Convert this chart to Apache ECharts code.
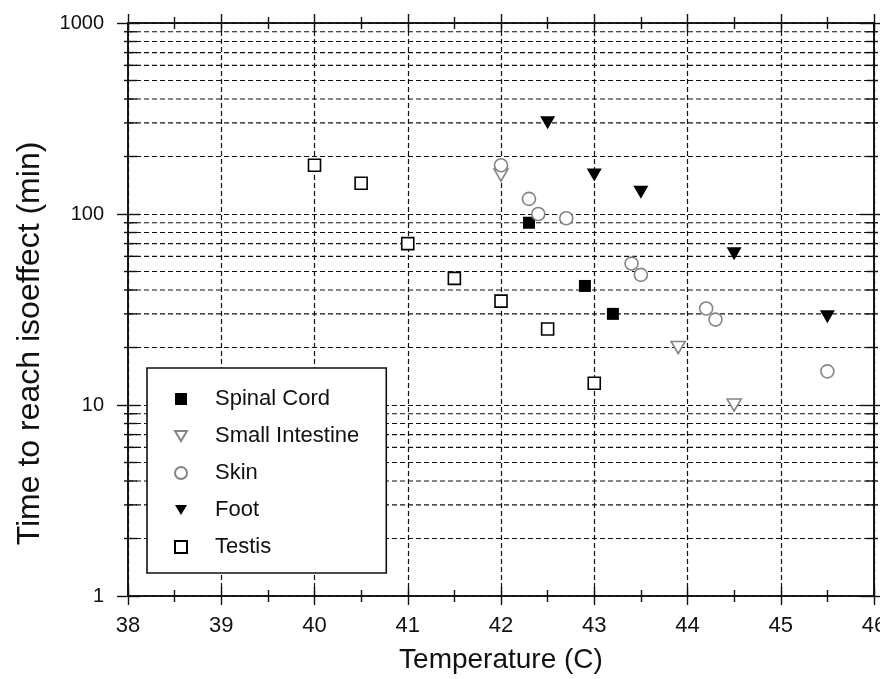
<!DOCTYPE html>
<html>
<head>
<meta charset="utf-8">
<script src="https://cdn.jsdelivr.net/npm/echarts@6/dist/echarts.min.js"></script>
<style>
  html, body { margin: 0; padding: 0; background: #fff; }
  #chart { width: 880px; height: 679px; }
</style>
</head>
<body>
<div id="chart"></div>
<script>
// Temperature (C) and time to reach isoeffect (min) for each tissue
const spinalTemp = [42.3, 42.9, 43.2];
const spinalTime = [90, 42, 30];
const intestineTemp = [42.0, 43.9, 44.5];
const intestineTime = [160, 20, 10];
const skinTemp = [42.0, 42.3, 42.4, 42.7, 43.4, 43.5, 44.2, 44.3, 45.5];
const skinTime = [180, 120, 100, 95, 55, 48, 32, 28, 15];
const footTemp = [42.5, 43.0, 43.5, 44.5, 45.5];
const footTime = [300, 160, 130, 62, 29];
const testisTemp = [40.0, 40.5, 41.0, 41.5, 42.0, 42.5, 43.0];
const testisTime = [180, 145, 70, 46, 35, 25, 13];

// Axis ranges and the minor log ticks (2..9 of every decade)
const tempMin = 38, tempMax = 46, tempStep = 1;
const timeMin = 1, timeMax = 1000;
const minorTimes = [2, 3, 4, 5, 6, 7, 8, 9,
                    20, 30, 40, 50, 60, 70, 80, 90,
                    200, 300, 400, 500, 600, 700, 800, 900];

const FONT = '"Liberation Sans", Arial, Helvetica, sans-serif';
const INK = '#111';
const GREY = '#858585';
const DASH = [5, 3];
const DOWN_TRI = 'path://M0,0L2,0L1,1.7Z';
const SQUARE = 'path://M0,0L1,0L1,1L0,1Z';

const pairs = (xs, ys) => xs.map((x, i) => [x, ys[i]]);

const chart = echarts.init(document.getElementById('chart'), null, { renderer: 'canvas' });

const baseX = {
  type: 'value', min: tempMin, max: tempMax, interval: tempStep,
  axisLine: { show: true, lineStyle: { color: INK, width: 1.6 } },
  axisLabel: { show: false },
  splitLine: { show: false },
  minorTick: { show: true, splitNumber: 2, length: 6, lineStyle: { color: INK, width: 1.4 } }
};
const baseY = {
  type: 'log', logBase: 10, min: timeMin, max: timeMax,
  axisLine: { show: true, lineStyle: { color: INK, width: 1.6 } },
  axisLabel: { show: false },
  splitLine: { show: false }
};

const option = {
  backgroundColor: '#fff',
  animation: false,
  grid: { left: 128, right: 6, top: 23, bottom: 83, containLabel: false, outerBoundsMode: 'none' },
  xAxis: [
    Object.assign({}, baseX, {
      position: 'bottom',
      name: 'Temperature (C)', nameLocation: 'middle', nameGap: 50,
      nameTextStyle: { fontFamily: FONT, fontSize: 28, color: INK },
      axisTick: { show: true, inside: false, length: 9, lineStyle: { color: INK, width: 1.4 } },
      axisLabel: { show: true, margin: 19, fontFamily: FONT, fontSize: 22, color: INK,
                   alignMaxLabel: 'center', alignMinLabel: 'center', hideOverlap: false },
      splitLine: { show: true, lineStyle: { color: INK, width: 1.2, type: DASH } }
    }),
    Object.assign({}, baseX, {
      position: 'bottom',
      axisTick: { show: true, inside: true, length: 9, lineStyle: { color: INK, width: 1.4 } }
    }),
    Object.assign({}, baseX, {
      position: 'top',
      axisTick: { show: true, inside: true, length: 9, lineStyle: { color: INK, width: 1.4 } }
    }),
    Object.assign({}, baseX, {
      position: 'top',
      axisTick: { show: true, inside: false, length: 9, lineStyle: { color: INK, width: 1.4 } }
    })
  ],
  yAxis: [
    Object.assign({}, baseY, {
      position: 'left',
      name: 'Time to reach isoeffect (min)', nameLocation: 'middle', nameGap: 82,
      nameTextStyle: { fontFamily: FONT, fontSize: 32, color: INK, padding: [0, 68, 0, 0] },
      axisTick: { show: true, inside: false, length: 11, lineStyle: { color: INK, width: 1.4 } },
      axisLabel: { show: true, margin: 24, fontFamily: FONT, fontSize: 20, color: INK,
                   formatter: v => String(v) },
      splitLine: { show: true, lineStyle: { color: INK, width: 1.2, type: DASH } }
    }),
    Object.assign({}, baseY, {
      position: 'left',
      axisTick: { show: true, inside: true, length: 12, lineStyle: { color: INK, width: 1.4 } }
    }),
    Object.assign({}, baseY, {
      position: 'right',
      axisTick: { show: true, inside: true, length: 14, lineStyle: { color: INK, width: 1.4 } }
    }),
    Object.assign({}, baseY, {
      position: 'right',
      axisTick: { show: true, inside: false, length: 6, lineStyle: { color: INK, width: 1.4 } }
    })
  ],
  legend: {
    orient: 'vertical',
    left: 147, top: 368,
    padding: [20, 27, 15, 27],
    itemWidth: 12, itemHeight: 12, itemGap: 15,
    backgroundColor: '#fff',
    borderColor: INK, borderWidth: 1.6, borderRadius: 0,
    textStyle: { fontFamily: FONT, fontSize: 22, lineHeight: 22, color: INK, padding: [0, 0, 0, 23] },
    data: ['Spinal Cord', 'Small Intestine', 'Skin', 'Foot', 'Testis']
  },
  series: [
    {
      // dashed lines and short ticks at the minor log values
      type: 'custom',
      name: 'minor grid',
      silent: true,
      z: 1,
      xAxisIndex: 0, yAxisIndex: 0,
      data: minorTimes.map(v => [tempMin, v]),
      encode: { x: 0, y: 1 },
      renderItem: function (params, api) {
        const v = api.value(1);
        const a = api.coord([tempMin, v]);
        const b = api.coord([tempMax, v]);
        const tick = { stroke: INK, lineWidth: 1.4 };
        return {
          type: 'group',
          children: [
            { type: 'line', shape: { x1: a[0], y1: a[1], x2: b[0], y2: b[1] },
              style: { stroke: INK, lineWidth: 1.2, lineDash: DASH } },
            { type: 'line', shape: { x1: a[0] - 4, y1: a[1], x2: a[0] + 9, y2: a[1] }, style: tick },
            { type: 'line', shape: { x1: b[0] - 8, y1: b[1], x2: b[0] + 4, y2: b[1] }, style: tick }
          ]
        };
      }
    },
    {
      type: 'scatter', name: 'Spinal Cord', z: 5,
      symbol: SQUARE, symbolSize: 12,
      itemStyle: { color: '#000', borderColor: '#000', borderWidth: 0, opacity: 1 },
      data: pairs(spinalTemp, spinalTime)
    },
    {
      type: 'scatter', name: 'Small Intestine', z: 5,
      symbol: DOWN_TRI, symbolSize: [14, 12],
      itemStyle: { color: '#fff', borderColor: GREY, borderWidth: 1.6, opacity: 1 },
      data: pairs(intestineTemp, intestineTime)
    },
    {
      type: 'scatter', name: 'Skin', z: 5,
      symbol: 'circle', symbolSize: 13,
      itemStyle: { color: '#fff', borderColor: GREY, borderWidth: 1.6, opacity: 1 },
      data: pairs(skinTemp, skinTime)
    },
    {
      type: 'scatter', name: 'Foot', z: 5,
      symbol: DOWN_TRI, symbolSize: [15, 13],
      itemStyle: { color: '#000', borderColor: '#000', borderWidth: 0, opacity: 1 },
      data: pairs(footTemp, footTime)
    },
    {
      type: 'scatter', name: 'Testis', z: 5,
      symbol: SQUARE, symbolSize: 12,
      itemStyle: { color: '#fff', borderColor: '#000', borderWidth: 1.6, opacity: 1 },
      data: pairs(testisTemp, testisTime)
    }
  ]
};

chart.setOption(option);
</script>
</body>
</html>
